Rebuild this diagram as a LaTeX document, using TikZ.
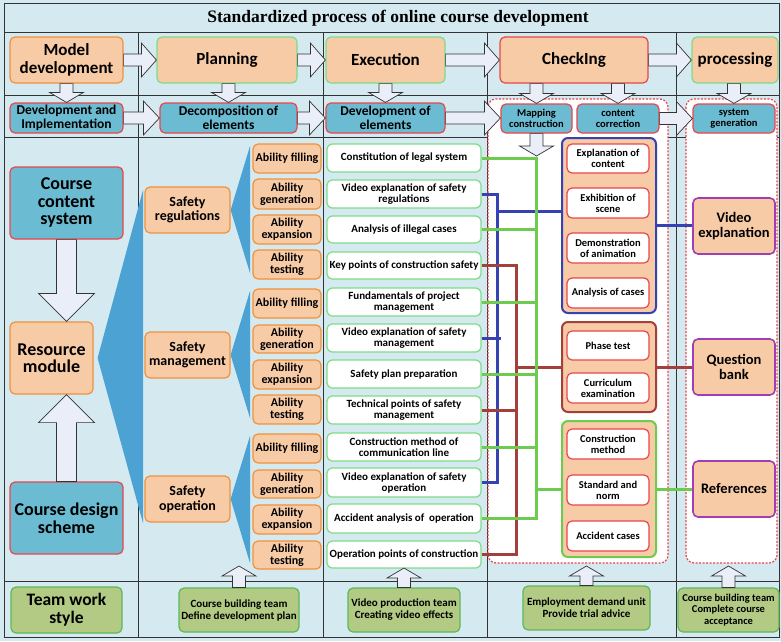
\documentclass[tikz,border=0pt]{standalone}
\usepackage{fontspec}
\setmainfont{Carlito}
\newfontfamily\titlefont{Liberation Serif}
\usetikzlibrary{calc}
\definecolor{cBg}{HTML}{D5EAF0}
\definecolor{cPeach}{HTML}{F8CBA7}
\definecolor{cOrange}{HTML}{F0923C}
\definecolor{cTeal}{HTML}{6BBCD2}
\definecolor{cRed}{HTML}{E8464B}
\definecolor{cGreenB}{HTML}{7EDB86}
\definecolor{cFan}{HTML}{4DA2D4}
\definecolor{cArr}{HTML}{E9EEF8}
\definecolor{cPurple}{HTML}{A23DB5}
\definecolor{cOlive}{HTML}{B2CA84}
\definecolor{cOliveB}{HTML}{5CB85A}
\definecolor{cLGreen}{HTML}{6DCB4F}
\definecolor{cLBlue}{HTML}{3742B2}
\definecolor{cLBrown}{HTML}{A2413B}
\definecolor{cGrid}{HTML}{333333}

\newcommand\bx[7]{\node[#6,minimum width={(#4)-(#2)},minimum height={(#5)-(#3)}] (#1) at ({((#2)+(#4))/2},{((#3)+(#5))/2}) {#7};}
\newcommand\harrow[5]{\filldraw[barr] let \p1=(#1),\p2=(#2) in (\x1,{\y1+#3pt}) -- ({\x2-#5pt},{\y1+#3pt}) -- ({\x2-#5pt},{\y1+#4pt}) -- (\x2,\y1) -- ({\x2-#5pt},{\y1-#4pt}) -- ({\x2-#5pt},{\y1-#3pt}) -- (\x1,{\y1-#3pt}) -- cycle;}
\newcommand\varrow[6]{\filldraw[barr] let \p1=(#1),\p2=(#2),\p3=(#3) in ({\x1-#4pt},\y2) -- ({\x1-#4pt},{\y3+#6pt}) -- ({\x1-#5pt},{\y3+#6pt}) -- (\x1,\y3) -- ({\x1+#5pt},{\y3+#6pt}) -- ({\x1+#4pt},{\y3+#6pt}) -- ({\x1+#4pt},\y2) -- cycle;}

\tikzset{
  fs/.style 2 args={font=\fontsize{#1}{#2}\selectfont\bfseries},
  base/.style={rounded corners=5pt, line width=1.2pt, align=center, inner sep=1pt, text=black},
  sO/.style={base, fill=cPeach, draw=cOrange},
  sG/.style={base, fill=cPeach, draw=cGreenB},
  sR/.style={base, fill=cPeach, draw=cRed},
  sT/.style={base, fill=cTeal, draw=cRed},
  sP/.style={base, fill=cPeach, draw=cPurple, line width=1.6pt},
  wG/.style={base, fill=white, draw=cGreenB, fs={11}{11}},
  wR/.style={base, fill=white, draw=cRed, fs={10.5}{11}},
  abil/.style={sO, fs={12}{12}},
  grp/.style={base, fill=cPeach, line width=2pt, rounded corners=6pt},
  sTeam/.style={base, fill=cOlive, draw=cOliveB},
  barr/.style={fill=cArr, draw=cGrid, line width=0.7pt},
  grid/.style={draw=cGrid, line width=0.9pt},
  dotreg/.style={draw=cRed, fill=white, line width=1.2pt, dash pattern=on 2pt off 1.5pt, rounded corners=8pt},
  cg/.style={draw=cLGreen, line width=3pt},
  cb/.style={draw=cLBlue, line width=3pt},
  cr/.style={draw=cLBrown, line width=3pt}
}

\begin{document}
\begin{tikzpicture}[x=1pt,y=-1pt]
\useasboundingbox (0,0) rectangle (781,641);
\fill[cBg] (0,0) rectangle (781,641);
% grid
\draw[grid] (4,3) rectangle (779,637);
\draw[grid] (4,32) -- (779,32);
\draw[grid] (4,95) -- (779,95);
\draw[grid] (4,137) -- (779,137);
\draw[grid] (4,581) -- (779,581);
\foreach \xx in {138,323,487,676} \draw[grid] (\xx,32) -- (\xx,637);
% title
\node[font=\titlefont\bfseries\fontsize{17.5}{20}\selectfont] (title) at (398,18) {Standardized process of online course development};

% dotted regions
\draw[dotreg] (488,99) rectangle (668,563);
\draw[dotreg] (686,99) rectangle (777,563);

% row 1
\bx{model}{10}{37}{123}{83}{sO,fs={17}{17.5}}{Model\\development}
\bx{plan}{157}{37}{297}{83}{sG,fs={17}{17.5}}{Planning}
\bx{exec}{326}{37}{445}{83}{sG,fs={17}{17.5}}{Execution}
\bx{check}{500}{37}{648}{83}{sR,fs={17}{17.5}}{CheckIng}
\bx{proc}{692}{37}{778}{83}{sG,fs={17}{17.5}}{processing}

% row 2
\bx{devimp}{10}{103}{123}{133}{sT,fs={13.5}{13.5}}{Development and\\Implementation}
\bx{decomp}{160}{103}{297}{133}{sT,fs={13.5}{13.5}}{Decomposition of\\elements}
\bx{devel}{326}{103}{445}{133}{sT,fs={13.5}{13.5}}{Development of\\elements}
\bx{mapc}{501}{104}{572}{133}{sT,fs={10.5}{11}}{Mapping\\construction}
\bx{ccor}{577}{104}{659}{133}{sT,fs={10.5}{11}}{content\\correction}
\bx{sysg}{693}{104}{775}{133}{sT,fs={10.5}{11}}{system\\generation}

% row 1 arrows
\harrow{model.east}{plan.west}{6}{17}{15}
\harrow{plan.east}{exec.west}{6}{17}{15}
\harrow{exec.east}{check.west}{6}{17}{15}
\harrow{check.east}{proc.west}{6}{17}{15}
% row 2 arrows
\harrow{devimp.east}{decomp.west}{6}{17}{16}
\harrow{decomp.east}{devel.west}{6}{17}{16}
\harrow{devel.east}{mapc.west}{6}{17}{16}
\harrow{ccor.east}{sysg.west}{6}{17}{16}
% down arrows
\varrow{devimp.north}{model.south}{devimp.north}{6.5}{17}{10}
\varrow{decomp.north}{plan.south}{decomp.north}{6.5}{17}{10}
\varrow{devel.north}{exec.south}{devel.north}{6.5}{17}{10}
\varrow{mapc.north}{check.south}{mapc.north}{6.5}{17}{10}
\varrow{ccor.north}{check.south}{ccor.north}{6.5}{17}{10}
\varrow{sysg.north}{proc.south}{sysg.north}{6.5}{17}{10}
\coordinate (mtip) at (537,156);
\varrow{mapc.south}{mapc.south}{mtip}{6.5}{17}{10}

% column 1
\bx{ccs}{10}{167}{123}{239}{sT,fs={18}{17.5}}{Course\\content\\system}
\bx{rm}{10}{322}{93}{394}{sO,fs={18}{17.5}}{Resource\\module}
\bx{cds}{10}{482}{123}{554}{sT,fs={18}{17.5}}{Course design\\scheme}
\varrow{ccs.south}{ccs.south}{rm.north}{10}{28}{28}
\varrow{cds.north}{cds.north}{rm.south}{10}{28}{-28}

% fans
\fill[cFan] ($(rm.east)+(4,0)$) -- (143,190) -- (143,523) -- cycle;

% column 2
\bx{sreg}{145}{187}{230}{233}{sO,fs={14}{14.5}}{Safety\\regulations}
\bx{smgt}{145}{332}{230}{378}{sO,fs={14}{14.5}}{Safety\\management}
\bx{sop}{145}{476}{230}{522}{sO,fs={14}{14.5}}{Safety\\operation}
\fill[cFan] (sreg.east) -- (250,146) -- (250,273) -- cycle;
\fill[cFan] (smgt.east) -- (250,291) -- (250,418) -- cycle;
\fill[cFan] (sop.east) -- (250,436) -- (250,563) -- cycle;

\bx{a1}{253}{144}{321}{173}{abil}{Ability filling}
\bx{a2}{253}{179}{321}{209}{abil}{Ability\\generation}
\bx{a3}{253}{215}{321}{244}{abil}{Ability\\expansion}
\bx{a4}{253}{250}{321}{279}{abil}{Ability\\testing}
\bx{a5}{253}{289}{321}{318}{abil}{Ability filling}
\bx{a6}{253}{325}{321}{353}{abil}{Ability\\generation}
\bx{a7}{253}{360}{321}{389}{abil}{Ability\\expansion}
\bx{a8}{253}{395}{321}{424}{abil}{Ability\\testing}
\bx{a9}{253}{434}{321}{463}{abil}{Ability filling}
\bx{a10}{253}{470}{321}{498}{abil}{Ability\\generation}
\bx{a11}{253}{505}{321}{534}{abil}{Ability\\expansion}
\bx{a12}{253}{541}{321}{569}{abil}{Ability\\testing}

% column 3
\bx{e1}{327}{144}{481}{172}{wG}{Constitution of legal system}
\bx{e2}{327}{180}{481}{208}{wG}{Video explanation of safety\\regulations}
\bx{e3}{327}{216}{481}{243}{wG}{Analysis of illegal cases}
\bx{e4}{327}{252}{481}{279}{wG}{Key points of construction safety}
\bx{e5}{327}{288}{481}{316}{wG}{Fundamentals of project\\management}
\bx{e6}{327}{324}{481}{352}{wG}{Video explanation of safety\\management}
\bx{e7}{327}{360}{481}{388}{wG}{Safety plan preparation}
\bx{e8}{327}{396}{481}{424}{wG}{Technical points of safety\\management}
\bx{e9}{327}{433}{481}{461}{wG}{Construction method of\\communication line}
\bx{e10}{327}{468}{481}{497}{wG}{Video explanation of safety\\operation}
\bx{e11}{327}{504}{481}{533}{wG}{Accident analysis of~ operation}
\bx{e12}{327}{541}{481}{568}{wG}{Operation points of construction}

% column 4 groups
\bx{vg}{562}{138}{656}{313}{grp,draw=cLBlue}{}
\bx{qg}{562}{322}{656}{412}{grp,draw=cLBrown}{}
\bx{rg}{562}{421}{656}{557}{grp,draw=cLGreen}{}
\bx{i1}{567}{144}{649}{173}{wR}{Explanation of\\content}
\bx{i2}{567}{188}{649}{218}{wR}{Exhibition of\\scene}
\bx{i3}{567}{233}{649}{263}{wR}{Demonstration\\of animation}
\bx{i4}{567}{278}{649}{308}{wR}{Analysis of cases}
\bx{i5}{567}{331}{649}{360}{wR}{Phase test}
\bx{i6}{567}{373}{649}{403}{wR}{Curriculum\\examination}
\bx{i7}{567}{429}{649}{459}{wR}{Construction\\method}
\bx{i8}{567}{475}{649}{505}{wR}{Standard and\\norm}
\bx{i9}{567}{521}{649}{551}{wR}{Accident cases}

% column 5
\bx{vexp}{693}{198}{775}{254}{sP,fs={14.5}{15}}{Video\\explanation}
\bx{qbank}{693}{339}{775}{395}{sP,fs={14.5}{15}}{Question\\bank}
\bx{refs}{693}{461}{775}{517}{sP,fs={14.5}{15}}{References}

% connectors: blue
\coordinate (bxc) at (497,0);
\draw[cb] (e2.east) -- (e2.east -| bxc) -- (e10.east -| bxc) -- (e10.east);
\draw[cb] (e6.east) -- ++(19,0);
\coordinate (bj) at (497,211);
\draw[cb] (bj) -- (bj -| vg.west);
\draw[cb] (vg.east) -- (vg.east -| vexp.west);
% brown
\coordinate (rxc) at (516,0);
\draw[cr] (e4.east) -- (e4.east -| rxc) -- (e12.east -| rxc) -- (e12.east);
\draw[cr] (e8.east) -- (e8.east -| rxc);
\coordinate (rj) at (516,367);
\draw[cr] (rj) -- (rj -| qg.west);
\draw[cr] (qg.east) -- (qg.east -| qbank.west);
% green
\coordinate (gx) at (536,0);
\draw[cg] (e1.east) -- (e1.east -| gx) -- (e11.east -| gx) -- (e11.east);
\foreach \n in {3,5,7,9} \draw[cg] (e\n.east) -- (e\n.east -| gx);
\draw[cg] (rg.west -| gx) -- (rg.west);
\draw[cg] (rg.east) -- (rg.east -| refs.west);

% team row
\bx{tw}{11}{587}{122}{633}{sTeam,fs={17.5}{18}}{Team work\\style}
\bx{t2}{179}{588}{299}{632}{sTeam,fs={11}{12}}{Course building team\\Define development plan}
\bx{t3}{348}{588}{460}{632}{sTeam,fs={11}{12}}{Video production team\\Creating video effects}
\bx{t4}{523}{586}{650}{630}{sTeam,fs={11}{12}}{Employment demand unit\\Provide trial advice}
\bx{t5}{678}{588}{779}{632}{sTeam,fs={10.5}{11.5}}{Course building team\\Complete course\\acceptance}
\coordinate (u2) at (237,566);
\coordinate (u3) at (404,568);
\coordinate (u4) at (586,566);
\coordinate (u5) at (729,566);
\varrow{t2.north}{t2.north}{u2}{6.5}{17}{-10}
\varrow{t3.north}{t3.north}{u3}{6.5}{17}{-10}
\varrow{t4.north}{t4.north}{u4}{6.5}{17}{-10}
\varrow{t5.north}{t5.north}{u5}{6.5}{17}{-10}
\end{tikzpicture}
\end{document}
